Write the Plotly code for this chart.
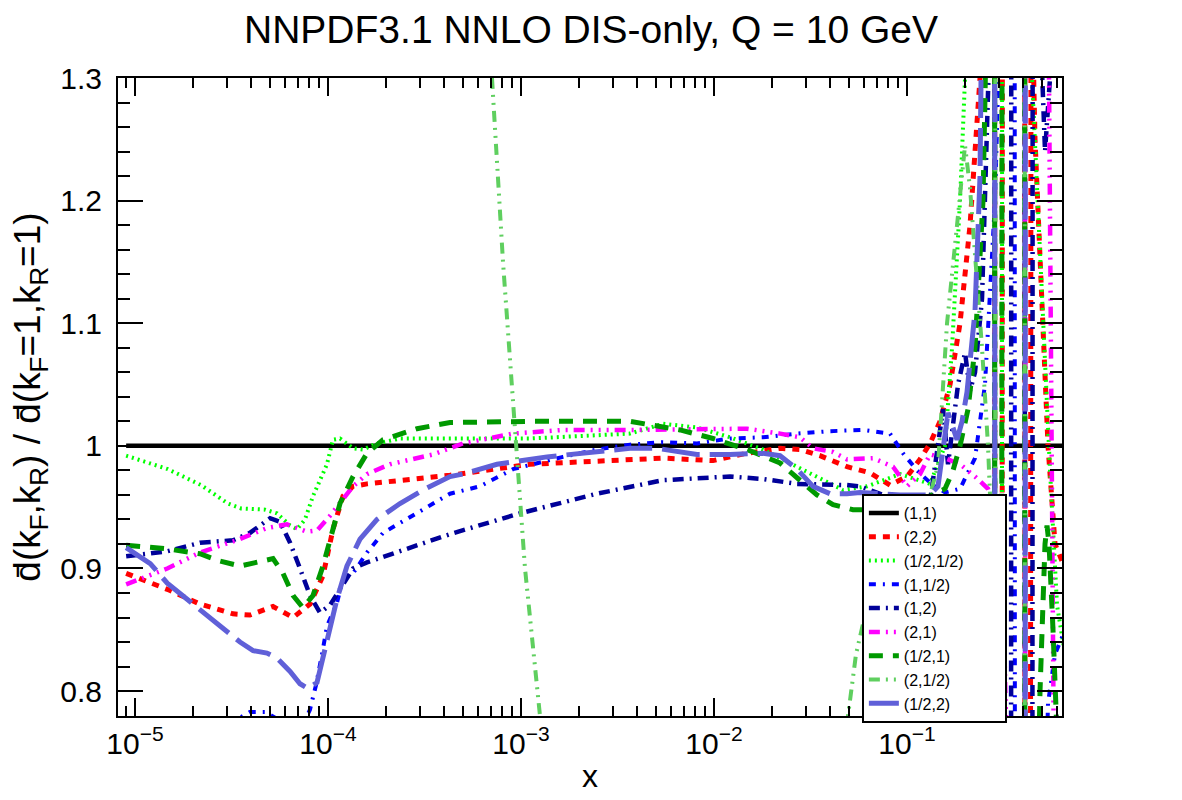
import plotly.graph_objects as go

# ---------------- data ----------------
labels = ["(1,1)", "(2,2)", "(1/2,1/2)", "(1,1/2)", "(1,2)", "(2,1)", "(1/2,1)", "(2,1/2)", "(1/2,2)"]

x_11 = [9.0e-6, 0.7]
y_11 = [1.0, 1.0]

x_22 = [9.0e-6, 1.47e-5, 2.17e-5, 3.22e-5, 3.94e-5, 5.19e-5, 6.59e-5, 8.07e-5, 9.42e-5, 1.061e-4,
        1.196e-4, 1.348e-4, 1.593e-4, 2.361e-4, 4.287e-4, 1.113e-3, 2.477e-3, 5.442e-3, 9.881e-3, 1.483e-2,
        2.198e-2, 2.790e-2, 3.541e-2, 4.888e-2, 6.432e-2, 8.164e-2, 0.1, 0.1168, 0.1316, 0.1483,
        0.1671, 0.1882, 0.2121, 0.2389, 0.2628, 0.2823, 0.2891, 0.3069, 0.3143, 0.4037,
        0.4135, 0.4285, 0.4390, 0.4605, 0.4888, 0.5377, 0.5845, 0.6587]
y_22 = [0.896, 0.883, 0.871, 0.863, 0.862, 0.869, 0.860, 0.871, 0.894, 0.932,
        0.959, 0.967, 0.969, 0.972, 0.976, 0.985, 0.988, 0.990, 0.988, 0.994,
        0.998, 0.997, 0.992, 0.983, 0.978, 0.968, 0.975, 0.989, 1.002, 1.02,
        1.05, 1.10, 1.18, 1.30, 1.6, 4.0, -4.0, -2.0, 3.0, 5.0,
        -5.0, -1.0, 1.4, 1.25, 1.15, 1.0, 0.92, 0.90]

x_hh = [9.0e-6, 1.48e-5, 2.20e-5, 3.03e-5, 3.54e-5, 4.72e-5, 5.44e-5, 6.36e-5, 6.91e-5, 7.60e-5,
        8.36e-5, 9.09e-5, 9.88e-5, 1.061e-4, 1.154e-4, 1.348e-4, 1.518e-4, 1.795e-4, 2.361e-4, 3.499e-4,
        1.113e-3, 3.672e-3, 5.442e-3, 8.164e-3, 1.210e-2, 1.795e-2, 2.692e-2, 3.417e-2, 4.661e-2, 6.205e-2,
        9.199e-2, 0.1316, 0.1574, 0.1711, 0.1882, 0.2022, 0.2535, 0.2823, 0.2891, 0.3069,
        0.3143, 0.3850, 0.4236, 0.4443, 0.5006, 0.5507, 0.5987, 0.6587]
y_hh = [0.992, 0.981, 0.968, 0.953, 0.949, 0.948, 0.945, 0.935, 0.932, 0.940,
        0.959, 0.972, 0.985, 1.005, 1.006, 0.998, 0.997, 1.002, 1.006, 1.006,
        1.006, 1.010, 1.018, 1.015, 1.007, 0.997, 0.983, 0.975, 0.964, 0.967,
        0.977, 0.969, 1.0, 1.08, 1.2, 1.32, 2.5, 5.0, -5.0, -2.0,
        4.0, 3.0, 1.5, 1.3, 1.12, 0.98, 0.87, 0.83]

x_1h = [9.0e-6, 2.17e-5, 3.30e-5, 3.94e-5, 4.72e-5, 5.64e-5, 6.91e-5, 7.60e-5, 8.07e-5, 8.67e-5,
        9.31e-5, 9.88e-5, 1.113e-4, 1.196e-4, 1.348e-4, 1.593e-4, 1.928e-4, 2.891e-4, 4.287e-4, 6.132e-4,
        9.091e-4, 1.650e-3, 2.477e-3, 3.672e-3, 5.442e-3, 8.164e-3, 1.210e-2, 1.795e-2, 2.692e-2, 3.990e-2,
        5.916e-2, 8.164e-2, 9.535e-2, 0.1127, 0.1316, 0.1574, 0.1882, 0.2251, 0.2535, 0.2857,
        0.3219, 0.3585, 0.3672, 0.4338, 0.5006, 0.5377, 0.5845, 0.6587]
y_1h = [0.70, 0.74, 0.776, 0.783, 0.783, 0.776, 0.772, 0.776, 0.785, 0.805,
        0.830, 0.853, 0.872, 0.891, 0.896, 0.913, 0.929, 0.945, 0.961, 0.967,
        0.981, 0.991, 0.997, 1.001, 1.003, 1.002, 1.006, 1.007, 1.010, 1.012,
        1.013, 1.010, 0.994, 0.980, 0.970, 0.962, 0.965, 0.99, 1.05, 1.2,
        1.5, 4.0, -4.0, -2.0, 0.6, 0.79, 0.83, 0.85]

x_12 = [9.0e-6, 1.47e-5, 2.17e-5, 3.22e-5, 3.94e-5, 5.01e-5, 5.64e-5, 6.36e-5, 7.16e-5, 8.07e-5,
        9.09e-5, 1.024e-4, 1.154e-4, 1.348e-4, 1.593e-4, 2.361e-4, 4.287e-4, 9.881e-4, 2.477e-3, 5.442e-3,
        1.210e-2, 1.795e-2, 2.692e-2, 4.888e-2, 5.707e-2, 9.199e-2, 0.1316, 0.1537, 0.1631, 0.1838,
        0.1998, 0.2121, 0.2251, 0.2447, 0.2628, 0.2757, 0.2823, 0.2891, 0.3418, 0.3500,
        0.4037, 0.4135, 0.4390, 0.4550, 0.4888, 0.5188, 0.5507, 0.5845, 0.6587]
y_12 = [0.910, 0.914, 0.921, 0.923, 0.929, 0.941, 0.938, 0.921, 0.900, 0.878,
        0.864, 0.870, 0.883, 0.900, 0.905, 0.914, 0.928, 0.945, 0.961, 0.972,
        0.975, 0.973, 0.969, 0.968, 0.967, 0.955, 0.955, 1.03, 0.985, 1.05,
        1.076, 1.045, 1.06, 1.12, 1.25, 1.4, 4.0, -4.0, -3.0, 4.0,
        5.0, -5.0, -3.0, 5.0, 1.35, 1.24, 1.30, 1.5, 2.0]

x_21 = [9.0e-6, 1.47e-5, 2.17e-5, 3.50e-5, 4.83e-5, 6.13e-5, 7.78e-5, 8.77e-5, 1.024e-4, 1.154e-4,
        1.348e-4, 1.593e-4, 2.095e-4, 3.499e-4, 5.006e-4, 9.091e-4, 1.650e-3, 3.672e-3, 8.164e-3, 1.483e-2,
        2.198e-2, 2.790e-2, 3.258e-2, 4.136e-2, 4.888e-2, 6.664e-2, 8.463e-2, 0.1, 0.1168, 0.1316,
        0.1574, 0.1882, 0.2251, 0.2628, 0.2961, 0.3181, 0.3337, 0.3500, 0.4037, 0.4135,
        0.4888, 0.5250, 0.5442, 0.5707, 0.5916]
y_21 = [0.887, 0.900, 0.913, 0.924, 0.933, 0.936, 0.930, 0.931, 0.943, 0.953,
        0.967, 0.977, 0.985, 0.993, 1.002, 1.010, 1.013, 1.013, 1.014, 1.014,
        1.010, 1.007, 0.998, 0.995, 0.989, 0.990, 0.983, 0.967, 0.977, 0.993,
        0.99, 0.985, 0.975, 0.965, 0.94, 0.85, 0.70, -2.0, -5.0, 5.0,
        2.5, 1.8, 1.3, 0.78, 0.5]

x_h1 = [9.0e-6, 1.47e-5, 2.17e-5, 2.76e-5, 3.50e-5, 4.44e-5, 5.19e-5, 5.85e-5, 6.59e-5, 7.42e-5,
        8.36e-5, 9.42e-5, 1.061e-4, 1.154e-4, 1.348e-4, 1.593e-4, 1.928e-4, 2.891e-4, 4.287e-4, 1.113e-3,
        3.672e-3, 6.664e-3, 9.881e-3, 1.483e-2, 2.198e-2, 2.892e-2, 3.417e-2, 4.136e-2, 5.250e-2, 7.246e-2,
        0.1168, 0.1574, 0.1731, 0.1882, 0.2071, 0.2251, 0.2476, 0.2692, 0.2823, 0.2891,
        0.3033, 0.3143, 0.4037, 0.4135, 0.4605, 0.4888, 0.5188, 0.5313, 0.5442, 0.5707,
        0.5987, 0.6205]
y_h1 = [0.919, 0.916, 0.912, 0.906, 0.902, 0.906, 0.908, 0.896, 0.878, 0.868,
        0.878, 0.902, 0.932, 0.953, 0.975, 0.994, 1.005, 1.014, 1.019, 1.020,
        1.020, 1.013, 1.006, 0.997, 0.986, 0.970, 0.960, 0.952, 0.948, 0.948,
        0.955, 0.965, 0.98, 1.0, 1.03, 1.08, 1.2, 1.5, 4.0, -4.0,
        -2.0, 3.0, 5.0, -5.0, 0.6, 0.80, 0.92, 0.935, 0.92, 0.85,
        0.78, 0.70]

x_2h = [9.0e-6, 7.16e-5, 2.361e-4, 4.830e-4, 7.074e-4, 8.068e-4, 9.421e-4, 1.049e-3, 1.254e-3, 1.593e-3,
        4.661e-3, 2.790e-2, 4.497e-2, 4.947e-2, 5.442e-2, 6.432e-2, 9.199e-2, 0.1316, 0.1447, 0.1612,
        0.1816, 0.1998, 0.2121, 0.2278, 0.2447, 0.2628, 0.2790, 0.2823, 0.2891, 0.4037,
        0.4135, 0.4888, 0.6587]
y_2h = [6.0, 3.5, 2.2, 1.6, 1.30, 1.15, 1.0, 0.90, 0.78, 0.55,
        0.4, 0.5, 0.70, 0.78, 0.83, 0.88, 0.93, 0.96, 0.984, 1.10,
        1.18, 1.245, 1.21, 1.15, 1.08, 1.0, 0.9, -4.0, 4.0, 5.0,
        -5.0, -3.0, -2.0]

x_h2 = [9.0e-6, 1.20e-5, 1.47e-5, 2.17e-5, 2.66e-5, 3.50e-5, 4.09e-5, 4.83e-5, 5.44e-5, 6.36e-5,
        7.16e-5, 7.88e-5, 8.77e-5, 9.42e-5, 1.024e-4, 1.113e-4, 1.254e-4, 1.465e-4, 1.795e-4, 2.361e-4,
        3.106e-4, 4.287e-4, 5.006e-4, 7.508e-4, 1.364e-3, 2.477e-3, 3.672e-3, 5.067e-3, 6.664e-3, 8.164e-3,
        1.210e-2, 1.795e-2, 2.198e-2, 2.692e-2, 3.258e-2, 3.990e-2, 4.888e-2, 5.707e-2, 9.199e-2, 0.1316,
        0.1447, 0.1555, 0.1631, 0.1816, 0.1928, 0.2046, 0.2251, 0.2389, 0.2476, 0.2692,
        0.2823, 0.2891, 0.3418, 0.4037, 0.4135, 0.4888, 0.6587]
y_h2 = [0.917, 0.904, 0.888, 0.867, 0.855, 0.840, 0.833, 0.831, 0.827, 0.816,
        0.806, 0.802, 0.807, 0.827, 0.851, 0.875, 0.902, 0.924, 0.940, 0.953,
        0.964, 0.975, 0.977, 0.985, 0.991, 0.995, 0.998, 0.998, 0.995, 0.993,
        0.993, 0.994, 0.992, 0.981, 0.967, 0.961, 0.961, 0.962, 0.960, 0.960,
        0.967, 1.0, 1.027, 1.005, 1.02, 1.044, 1.11, 1.22, 1.32, 2.0,
        5.0, -5.0, -3.0, -5.0, 5.0, 3.0, 2.0]

series_x = [x_11, x_22, x_hh, x_1h, x_12, x_21, x_h1, x_2h, x_h2]
series_y = [y_11, y_22, y_hh, y_1h, y_12, y_21, y_h1, y_2h, y_h2]

# ---------------- styles ----------------
colors = ["#000000", "#ff0000", "#00ff00", "#0000ff", "#000099", "#ff00ff", "#009900", "#5fcf5f", "#6060d8"]
dashes = ["solid", "7px,7px", "2px,4px", "7px,7px,2px,7px", "11px,6px,2px,6px",
          "11px,6px,2px,6px,2px,6px,2px,6px", "14px,10px", "11px,6px,2px,6px,2px,6px", "38px,10px"]
widths = [4.5, 5, 4, 4, 4.5, 4.5, 5, 4, 5]

FONT = "Liberation Sans, Arial, sans-serif"
LEGEND_PAD = "\u00a0" * 8   # invisible right padding so the legend box is as wide as the original

fig = go.Figure()
for lab, xs, ys, c, d, w in zip(labels, series_x, series_y, colors, dashes, widths):
    fig.add_trace(go.Scatter(x=xs, y=ys, mode="lines", name=lab + LEGEND_PAD,
                             line=dict(color=c, dash=d, width=w)))

tick_vals = [1e-5, 1e-4, 1e-3, 1e-2, 1e-1]
tick_text = ["10<sup>\u22125</sup>", "10<sup>\u22124</sup>", "10<sup>\u22123</sup>",
             "10<sup>\u22122</sup>", "10<sup>\u22121</sup>"]

fig.update_layout(
    width=1182, height=800,
    margin=dict(l=118, r=120, t=78, b=80),
    paper_bgcolor="white", plot_bgcolor="white",
    font=dict(family=FONT, color="black"),
    title=dict(text="NNPDF3.1 NNLO DIS-only, Q = 10 GeV", x=0.5, xanchor="center",
               y=1 - 29 / 800, yanchor="middle", font=dict(size=39, family=FONT)),
    showlegend=True,
    legend=dict(x=0.788, y=0.348, xanchor="left", yanchor="top",
                bgcolor="white", bordercolor="black", borderwidth=2,
                font=dict(size=16, family=FONT), tracegroupgap=0, itemwidth=30),
    xaxis=dict(type="log", range=[-5.088, -0.197], tickmode="array",
               tickvals=tick_vals, ticktext=tick_text,
               ticks="inside", ticklen=18, tickwidth=2, tickcolor="black",
               showline=True, linecolor="black", linewidth=2, mirror="allticks",
               showgrid=False, zeroline=False,
               tickfont=dict(size=30, family=FONT),
               minor=dict(ticks="inside", ticklen=10, tickwidth=1.5, tickcolor="black",
                          dtick="D1", showgrid=False),
               title=dict(text="x", font=dict(size=32, family=FONT), standoff=6)),
    yaxis=dict(range=[0.7797, 1.3], tick0=0.8, dtick=0.1,
               ticks="inside", ticklen=25, tickwidth=2, tickcolor="black",
               showline=True, linecolor="black", linewidth=2, mirror="allticks",
               showgrid=False, zeroline=False,
               tickfont=dict(size=30, family=FONT), ticklabelstandoff=8,
               minor=dict(ticks="inside", ticklen=12, tickwidth=1.5, tickcolor="black",
                          dtick=0.02, showgrid=False),
               title=dict(text="d\u0304(k<sub>F</sub>,k<sub>R</sub>) / d\u0304(k<sub>F</sub>=1,k<sub>R</sub>=1)",
                          font=dict(size=37, family=FONT), standoff=8)),
)

fig.write_html("out.html")
